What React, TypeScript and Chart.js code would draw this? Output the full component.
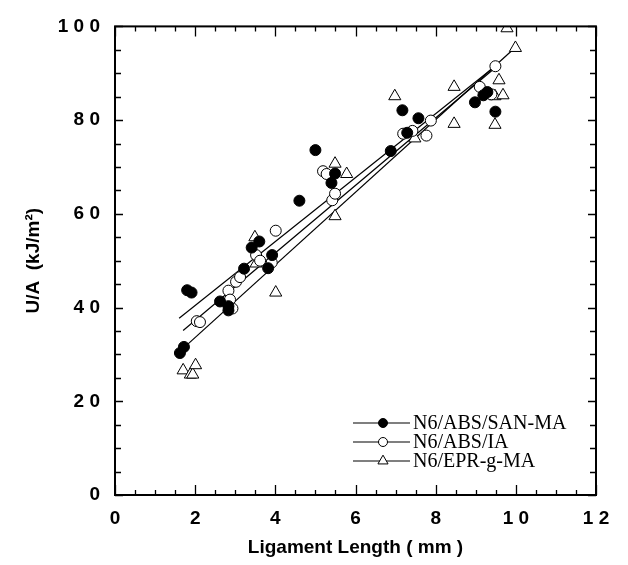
import React, { useEffect, useRef } from 'react';
import { Chart, registerables } from 'chart.js';

Chart.register(...registerables);

// ---------- data ----------
const seriesNames = ['N6/ABS/SAN-MA', 'N6/ABS/IA', 'N6/EPR-g-MA'];

const sanMaX = [1.62, 1.72, 1.80, 1.91, 2.62, 2.83, 2.83, 3.22, 3.41, 3.60, 3.82, 3.92, 4.60, 5.00, 5.40, 5.49, 6.88, 7.17, 7.29, 7.57, 8.98, 9.19, 9.29, 9.49];
const sanMaY = [30.3, 31.6, 43.7, 43.2, 41.3, 40.3, 39.4, 48.3, 52.8, 54.1, 48.4, 51.2, 62.8, 73.6, 66.6, 68.6, 73.4, 82.1, 77.3, 80.4, 83.8, 85.3, 86.0, 81.8];

const iaX = [2.04, 2.12, 2.83, 2.87, 2.93, 3.02, 3.12, 3.52, 3.62, 3.91, 4.01, 5.19, 5.28, 5.42, 5.49, 7.19, 7.42, 7.77, 7.88, 9.10, 9.39, 9.49];
const iaY = [37.1, 36.9, 43.6, 41.7, 39.8, 45.5, 46.5, 51.2, 50.0, 49.6, 56.4, 69.1, 68.5, 62.9, 64.3, 77.1, 77.7, 76.7, 79.9, 87.1, 85.5, 91.5];

const eprX = [1.70, 1.88, 1.94, 2.01, 3.49, 3.52, 4.01, 5.49, 5.49, 5.78, 6.98, 7.48, 8.46, 8.46, 9.48, 9.48, 9.58, 9.68, 9.78, 9.99];
const eprY = [26.6, 25.7, 25.7, 27.7, 55.0, 49.4, 43.2, 70.7, 59.5, 68.5, 85.1, 76.1, 87.1, 79.2, 85.1, 79.0, 88.5, 85.3, 99.6, 95.4];

// fitted lines (end points)
const sanMaFitX = [1.6, 9.5];
const sanMaFitY = [37.7, 91.6];
const iaFitX = [1.7, 9.5];
const iaFitY = [35.1, 91.3];
const eprFitX = [1.7, 10.0];
const eprFitY = [31.3, 95.6];

const xMin = 0, xMax = 12, xStep = 2, xMinorStep = 0.5;
const yMin = 0, yMax = 100, yStep = 20, yMinorStep = 5;

const xTitle = 'Ligament Length ( mm )';
const yTitle = 'U/A  (kJ/m\u00B2)';

// ---------- helpers ----------
const pts = (xs: number[], ys: number[]) => xs.map((x, i) => ({ x, y: ys[i] }));
const spaced = (v: number | string) => String(v).split('').join(' ');

const markerStyles = [
  { style: 'circle', fill: '#000' },
  { style: 'circle', fill: '#fff' },
  { style: 'triangle', fill: '#fff' },
];

function drawMarker(ctx: CanvasRenderingContext2D, kind: number, x: number, y: number, r: number) {
  ctx.beginPath();
  if (markerStyles[kind].style === 'circle') {
    ctx.arc(x, y, r, 0, Math.PI * 2);
  } else {
    const rr = r * 1.3;
    let a = 0;
    ctx.moveTo(x + Math.sin(a) * rr, y - Math.cos(a) * rr);
    a += (2 * Math.PI) / 3;
    ctx.lineTo(x + Math.sin(a) * rr, y - Math.cos(a) * rr);
    a += (2 * Math.PI) / 3;
    ctx.lineTo(x + Math.sin(a) * rr, y - Math.cos(a) * rr);
    ctx.closePath();
  }
  ctx.fillStyle = markerStyles[kind].fill;
  ctx.fill();
  ctx.lineWidth = 1;
  ctx.strokeStyle = '#000';
  ctx.stroke();
}

const framePlugin = {
  id: 'frameTicksLegend',
  afterDatasetsDraw(chart: any) {
    const { ctx, chartArea: a, scales } = chart;
    const xs = scales.x;
    const ys = scales.y;
    ctx.save();
    ctx.strokeStyle = '#000';
    ctx.lineWidth = 1.3;
    ctx.beginPath();
    for (let v = xMin; v <= xMax + 1e-9; v += xMinorStep) {
      const px = Math.round(xs.getPixelForValue(v)) + 0.5;
      const len = Math.abs(v % xStep) < 1e-9 ? 10 : 5;
      ctx.moveTo(px, a.bottom);
      ctx.lineTo(px, a.bottom - len);
      ctx.moveTo(px, a.top);
      ctx.lineTo(px, a.top + len);
    }
    for (let v = yMin; v <= yMax + 1e-9; v += yMinorStep) {
      const py = Math.round(ys.getPixelForValue(v)) + 0.5;
      const len = Math.abs(v % yStep) < 1e-9 ? 8 : 6;
      ctx.moveTo(a.left, py);
      ctx.lineTo(a.left + len, py);
      ctx.moveTo(a.right, py);
      ctx.lineTo(a.right - len, py);
    }
    ctx.stroke();

    ctx.lineWidth = 2;
    ctx.strokeRect(a.left, a.top, a.right - a.left, a.bottom - a.top);

    // legend
    const lx0 = a.left + 238;
    const lx1 = a.left + 295;
    const mx = a.left + 268;
    const tx = a.left + 298;
    const rowY = [a.bottom - 72, a.bottom - 53, a.bottom - 34];
    ctx.font = '20px "Liberation Serif", "Times New Roman", serif';
    ctx.textBaseline = 'middle';
    ctx.textAlign = 'left';
    seriesNames.forEach((name, i) => {
      const y = rowY[i];
      ctx.beginPath();
      ctx.lineWidth = 1.2;
      ctx.strokeStyle = '#000';
      ctx.moveTo(lx0, y);
      ctx.lineTo(lx1, y);
      ctx.stroke();
      drawMarker(ctx, i, mx, y, 4.5);
      ctx.fillStyle = '#000';
      ctx.fillText(name, tx, y + 1);
    });
    ctx.restore();
  },
};

export default function App() {
  const canvasRef = useRef<HTMLCanvasElement | null>(null);

  useEffect(() => {
    document.body.style.margin = '0';
    const canvas = canvasRef.current;
    if (!canvas) return;
    const tickFont = { family: '"Liberation Sans", Arial, sans-serif', size: 19, weight: 'bold' as const };
    const titleFont = { family: '"Liberation Sans", Arial, sans-serif', size: 19, weight: 'bold' as const };

    const lineDs = (xs: number[], ys: number[]) => ({
      type: 'scatter' as const,
      data: pts(xs, ys),
      showLine: true,
      borderColor: '#000',
      borderWidth: 1.2,
      pointRadius: 0,
      pointHoverRadius: 0,
      fill: false,
      order: 5,
    });

    const chart = new Chart(canvas, {
      type: 'scatter',
      data: {
        datasets: [
          lineDs(sanMaFitX, sanMaFitY),
          lineDs(iaFitX, iaFitY),
          lineDs(eprFitX, eprFitY),
          {
            label: seriesNames[2],
            data: pts(eprX, eprY),
            pointStyle: 'triangle',
            pointRadius: 7,
            backgroundColor: '#fff',
            borderColor: '#000',
            borderWidth: 1,
            order: 3,
          },
          {
            label: seriesNames[1],
            data: pts(iaX, iaY),
            pointStyle: 'circle',
            pointRadius: 5.5,
            backgroundColor: '#fff',
            borderColor: '#000',
            borderWidth: 1,
            order: 2,
          },
          {
            label: seriesNames[0],
            data: pts(sanMaX, sanMaY),
            pointStyle: 'circle',
            pointRadius: 5.5,
            backgroundColor: '#000',
            borderColor: '#000',
            borderWidth: 1,
            order: 1,
          },
        ] as any,
      },
      options: {
        animation: false,
        responsive: false,
        maintainAspectRatio: false,
        layout: { padding: { top: 13, right: 32, left: 0, bottom: 0 } },
        plugins: {
          legend: { display: false },
          tooltip: { enabled: false },
        },
        scales: {
          x: {
            type: 'linear',
            min: xMin,
            max: xMax,
            grid: { display: false, drawTicks: false },
            border: { display: false },
            ticks: {
              stepSize: xStep,
              autoSkip: false,
              maxRotation: 0,
              padding: 12,
              color: '#000',
              font: tickFont,
              callback: (v: any) => spaced(v),
            },
            title: {
              display: true,
              text: xTitle,
              color: '#000',
              font: titleFont,
              padding: { top: 0, bottom: 6 },
            },
            afterFit: (s: any) => {
              s.height = 70;
            },
          },
          y: {
            type: 'linear',
            min: yMin,
            max: yMax,
            grid: { display: false, drawTicks: false },
            border: { display: false },
            ticks: {
              stepSize: yStep,
              autoSkip: false,
              padding: 15,
              color: '#000',
              font: tickFont,
              callback: (v: any) => spaced(v),
            },
            title: {
              display: true,
              text: yTitle,
              color: '#000',
              font: titleFont,
              padding: { top: 22, bottom: 0 },
            },
            afterFit: (s: any) => {
              s.width = 115;
            },
          },
        },
      } as any,
      plugins: [framePlugin],
    });
    return () => chart.destroy();
  }, []);

  return (
    <div style={{ width: 628, height: 565, background: '#fff' }}>
      <canvas ref={canvasRef} width={628} height={565} style={{ display: 'block' }} />
    </div>
  );
}
